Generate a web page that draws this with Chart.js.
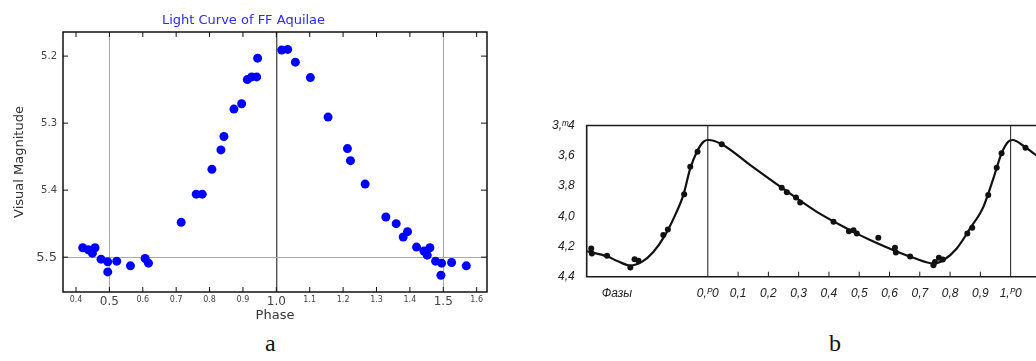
<!DOCTYPE html>
<html lang="en">
<head>
<meta charset="UTF-8">
<title>FF Aquilae light curves</title>
<script src="https://cdn.jsdelivr.net/npm/chart.js"></script>
<style>
  html, body { margin: 0; padding: 0; background: #fff; overflow: hidden; }
  body { width: 1036px; height: 361px; position: relative; }
  #boxA { position: absolute; left: 0; top: 0; width: 500px; height: 330px; }
  #boxB { position: absolute; left: 540px; top: 100px; width: 530px; height: 200px; }
  .cap { position: absolute; font-family: "Liberation Serif", "DejaVu Serif", serif; font-size: 24px; color: #111; }
</style>
</head>
<body>
<div id="boxA"><canvas id="chartA"></canvas></div>
<div id="boxB"><canvas id="chartB"></canvas></div>
<div class="cap" style="left:265px; top:330px">a</div>
<div class="cap" style="left:829px; top:330px">b</div>

<script>
// panel a: observed phases / magnitudes
const phaseA = [0.420, 0.437, 0.449, 0.457, 0.475, 0.495, 0.495, 0.522, 0.563, 0.607, 0.617,
  0.715, 0.760, 0.778, 0.807, 0.834, 0.843, 0.873, 0.896, 0.913, 0.926, 0.941, 0.944,
  1.016, 1.034, 1.057, 1.102, 1.155, 1.213, 1.222, 1.266, 1.328, 1.359, 1.380, 1.393,
  1.420, 1.442, 1.452, 1.460, 1.477, 1.495, 1.493, 1.525, 1.569];
const magA = [5.486, 5.489, 5.494, 5.486, 5.503, 5.507, 5.522, 5.506, 5.513, 5.502, 5.509,
  5.448, 5.406, 5.406, 5.369, 5.340, 5.320, 5.279, 5.271, 5.235, 5.231, 5.231, 5.203,
  5.191, 5.190, 5.209, 5.232, 5.291, 5.338, 5.356, 5.391, 5.440, 5.450, 5.470, 5.462,
  5.485, 5.491, 5.497, 5.486, 5.506, 5.509, 5.527, 5.508, 5.513];
const xTicksA = [0.4, 0.5, 0.6, 0.7, 0.8, 0.9, 1.0, 1.1, 1.2, 1.3, 1.4, 1.5, 1.6];
const xBigA = [0.5, 1.0, 1.5];
const yTicksA = [5.2, 5.3, 5.4, 5.5];
const yBigA = [5.5];

// panel b: fitted curve and observations
const curvePhase = [-0.399, -0.333, -0.295, -0.256, -0.218, -0.180, -0.141, -0.108, -0.081,
  -0.058, -0.036, -0.014, 0.002, 0.046, 0.140, 0.250, 0.360, 0.470, 0.536, 0.613, 0.679,
  0.745, 0.778, 0.822, 0.866, 0.910, 0.943, 0.970, 0.992, 1.007, 1.042, 1.083, 1.095];
const curveMag = [4.232, 4.265, 4.300, 4.326, 4.302, 4.236, 4.125, 3.993, 3.860,
  3.684, 3.573, 3.507, 3.496, 3.524, 3.662, 3.820, 3.971, 4.092, 4.158, 4.225, 4.275,
  4.313, 4.291, 4.213, 4.081, 3.938, 3.750, 3.584, 3.507, 3.496, 3.534, 3.595, 3.612];
const dotPhase = [-0.385, -0.383, -0.333, -0.256, -0.242, -0.229, -0.147, -0.132, -0.078,
  -0.058, -0.034, 0.046, 0.244, 0.261, 0.291, 0.305, 0.415, 0.466, 0.481, 0.492, 0.563,
  0.618, 0.621, 0.668, 0.745, 0.750, 0.763, 0.776, 0.857, 0.873, 0.926, 0.954, 0.970, 1.049];
const dotMag = [4.213, 4.246, 4.262, 4.339, 4.284, 4.295, 4.125, 4.088, 3.854,
  3.673, 3.573, 3.524, 3.812, 3.842, 3.876, 3.909, 4.037, 4.099, 4.092, 4.114, 4.143,
  4.209, 4.240, 4.266, 4.324, 4.302, 4.275, 4.286, 4.114, 4.077, 3.860, 3.679, 3.584, 3.547];
const xTicksB = [-0.3, 0, 0.1, 0.2, 0.3, 0.4, 0.5, 0.6, 0.7, 0.8, 0.9, 1.0];
const xLabelsB = ['Фазы', '0,ᴾ0', '0,1', '0,2', '0,3', '0,4', '0,5', '0,6', '0,7', '0,8', '0,9', '1,ᴾ0'];
const yTicksB = [3.4, 3.6, 3.8, 4.0, 4.2, 4.4];
const yLabelsB = ['3,ᵐ4', '3,6', '3,8', '4,0', '4,2', '4,4'];

const near = (a, b) => Math.abs(a - b) < 1e-6;
const tickIn = (c, list) => !!(c && c.tick) && list.some(b => near(b, c.tick.value));

const frameA = {
  id: 'frameA',
  afterDatasetsDraw(chart) {
    const { ctx, chartArea: a, scales: { x, y } } = chart;
    ctx.save();
    ctx.strokeStyle = '#111';
    ctx.lineWidth = 1;
    xTicksA.forEach(v => {
      const px = x.getPixelForValue(v);
      ctx.beginPath();
      ctx.moveTo(px, a.bottom); ctx.lineTo(px, a.bottom - 5);
      ctx.moveTo(px, a.top); ctx.lineTo(px, a.top + 5);
      ctx.stroke();
    });
    yTicksA.forEach(v => {
      const py = y.getPixelForValue(v);
      ctx.beginPath();
      ctx.moveTo(a.left, py); ctx.lineTo(a.left + 5, py);
      ctx.moveTo(a.right, py); ctx.lineTo(a.right - 6, py);
      ctx.stroke();
    });
    ctx.lineWidth = 1.5;
    ctx.strokeRect(a.left, a.top, a.right - a.left, a.bottom - a.top);
    ctx.restore();
  }
};

new Chart(document.getElementById('chartA'), {
  type: 'scatter',
  data: {
    datasets: [{
      data: phaseA.map((p, i) => ({ x: p, y: magA[i] })),
      backgroundColor: '#0000ff',
      borderWidth: 0,
      pointRadius: 4.5,
      pointHoverRadius: 4.5
    }]
  },
  options: {
    responsive: true,
    maintainAspectRatio: false,
    animation: false,
    layout: { padding: { top: 0, right: 13, bottom: 0, left: 0 } },
    plugins: {
      legend: { display: false },
      tooltip: { enabled: false },
      title: {
        display: true,
        text: 'Light Curve of FF Aquilae',
        color: '#2a2aff',
        font: { family: 'DejaVu Sans', size: 13, weight: 'normal' },
        padding: { top: 13, bottom: 3.4 }
      }
    },
    scales: {
      x: {
        type: 'linear',
        min: 0.361,
        max: 1.631,
        afterBuildTicks: s => { s.ticks = xTicksA.map(v => ({ value: v })); },
        afterFit: s => { s.height = 38; },
        ticks: {
          padding: 3,
          color: '#444',
          callback: v => v.toFixed(1),
          font: c => ({ family: 'DejaVu Sans', size: tickIn(c, xBigA) ? 12 : 8 })
        },
        grid: {
          drawTicks: false,
          color: c => (c && c.tick && near(c.tick.value, 1.0)) ? '#555' : (tickIn(c, xBigA) ? '#a8a8a8' : 'rgba(0,0,0,0)'),
          lineWidth: c => (c && c.tick && near(c.tick.value, 1.0)) ? 1.4 : 1
        },
        border: { display: false },
        title: {
          display: true, text: 'Phase', color: '#333',
          font: { family: 'DejaVu Sans', size: 13 },
          padding: { top: 0, bottom: 7 }
        }
      },
      y: {
        type: 'linear',
        reverse: true,
        min: 5.164,
        max: 5.552,
        afterBuildTicks: s => { s.ticks = yTicksA.map(v => ({ value: v })); },
        afterFit: s => { s.width = 63; },
        ticks: {
          padding: 6,
          color: '#444',
          callback: v => v.toFixed(1),
          font: c => ({ family: 'DejaVu Sans', size: tickIn(c, yBigA) ? 13 : 10 })
        },
        grid: {
          drawTicks: false,
          color: c => tickIn(c, yBigA) ? '#a8a8a8' : 'rgba(0,0,0,0)'
        },
        border: { display: false },
        title: {
          display: true, text: 'Visual Magnitude', color: '#333',
          font: { family: 'DejaVu Sans', size: 13 },
          padding: { top: 12, bottom: 0 }
        }
      }
    }
  },
  plugins: [frameA]
});

const frameB = {
  id: 'frameB',
  afterDatasetsDraw(chart) {
    const { ctx, chartArea: a, scales: { x, y } } = chart;
    ctx.save();
    ctx.strokeStyle = '#1a1a1a';
    ctx.lineWidth = 1;
    [0, 1].forEach(v => {
      const px = x.getPixelForValue(v);
      ctx.beginPath(); ctx.moveTo(px, a.top); ctx.lineTo(px, a.bottom); ctx.stroke();
    });
    xTicksB.filter(v => v > 0.05 && v < 0.95).forEach(v => {
      const px = x.getPixelForValue(v);
      ctx.beginPath(); ctx.moveTo(px, a.bottom); ctx.lineTo(px, a.bottom - 5); ctx.stroke();
    });
    ctx.lineWidth = 1.6;
    const top = y.getPixelForValue(3.4);
    ctx.beginPath();
    ctx.moveTo(a.right, top); ctx.lineTo(a.left, top);
    ctx.lineTo(a.left, a.bottom); ctx.lineTo(a.right, a.bottom);
    ctx.stroke();
    ctx.restore();
  }
};

const fontB = { family: 'Liberation Sans', size: 12, style: 'italic' };

new Chart(document.getElementById('chartB'), {
  type: 'scatter',
  data: {
    datasets: [{
      type: 'line',
      data: curvePhase.map((p, i) => ({ x: p, y: curveMag[i] })),
      borderColor: '#111',
      borderWidth: 2.2,
      pointRadius: 0,
      cubicInterpolationMode: 'monotone',
      fill: false
    }, {
      data: dotPhase.map((p, i) => ({ x: p, y: dotMag[i] })),
      backgroundColor: '#111',
      borderWidth: 0,
      pointRadius: 3,
      pointHoverRadius: 3
    }]
  },
  options: {
    responsive: true,
    maintainAspectRatio: false,
    animation: false,
    layout: { padding: { top: 25.5, right: 10, bottom: 0, left: 0 } },
    plugins: { legend: { display: false }, tooltip: { enabled: false } },
    scales: {
      x: {
        type: 'linear',
        min: -0.4,
        max: 1.163,
        afterBuildTicks: s => { s.ticks = xTicksB.map(v => ({ value: v })); },
        afterFit: s => { s.height = 23.3; },
        ticks: { padding: 2, color: '#222', font: fontB, callback: (v, i) => xLabelsB[i] },
        grid: { display: false },
        border: { display: false }
      },
      y: {
        type: 'linear',
        reverse: true,
        min: 3.4,
        max: 4.4,
        afterBuildTicks: s => { s.ticks = yTicksB.map(v => ({ value: v })); },
        afterFit: s => { s.width = 46.7; },
        ticks: { padding: 4, color: '#222', font: fontB, callback: (v, i) => yLabelsB[i] },
        grid: { display: false },
        border: { display: false }
      }
    }
  },
  plugins: [frameB]
});
</script>
</body>
</html>
